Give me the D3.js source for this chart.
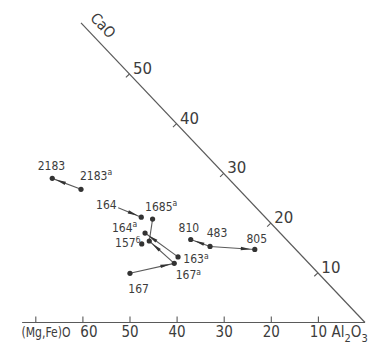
<!DOCTYPE html>
<html><head><meta charset="utf-8">
<script src="https://cdn.jsdelivr.net/npm/d3@7"></script>
<style>
html,body{margin:0;padding:0;background:#fff;}
svg{display:block;}
</style>
</head><body>
<svg id="chart" width="371" height="353"></svg>
<script>
// Axis ticks of the (Mg,Fe)O – CaO – Al2O3 diagram
const mgfeTicks = [10, 20, 30, 40, 50, 60, 70];
const mgfeTickLabels = ["10", "20", "30", "40", "50", "60", ""];
const caoTicks = [10, 20, 30, 40, 50];
const caoTickLabels = ["10", "20", "30", "40", "50"];

// Samples: (Mg,Fe)O and CaO contents, wt.%
const sampleIds    = ["2183", "2183a", "164", "164a", "1685a", "1685", "157b", "163", "810", "483", "805", "163a", "167a", "167"];
const sampleLabels = ["2183", "2183",  "164", "164",  "1685",  "",     "157",  "",    "810", "483", "805", "163",  "167",  "167"];
const sampleSups   = ["",     "а",     "",    "а",    "а",     "",     "б",    "",    "",    "",    "",    "а",    "а",    ""];
const mgfeValues   = [37.4, 33.5, 29.3, 26.3, 24.3, 28.7, 31.6, 29.4, 20.3, 17.6, 8.7, 26.5, 28.6, 40.0];
const caoValues    = [29.0, 26.8, 23.1, 21.2, 20.8, 18.0, 15.8, 16.4, 16.7, 15.3, 14.7, 13.2, 11.9, 9.9];
const undottedIds  = ["164"];

// Composition shifts between samples
const arrowLinks = [["2183a", "2183"], ["164", "164a"], ["163a", "1685"], ["167a", "163"], ["167", "167a"], ["483", "805"], ["483", "810"]];
const plainLinks = [["1685a", "163"]];

const svg = d3.select("#chart");
const ink = "#3c3c3c", lineInk = "#5a5a5a";
const condensed = "'DejaVu Sans Condensed','Liberation Sans Narrow','DejaVu Sans',sans-serif";

const baseY = 322.5, cornerX = 365;
// horizontal scale: (Mg,Fe)O + CaO  (position along the Al2O3 – (Mg,Fe)O edge)
const x = d3.scaleLinear().domain([0, 70]).range([cornerX, cornerX - 4.71 * 70]);
// vertical scale: CaO
const y = d3.scaleLinear().domain([0, 60]).range([baseY, baseY - 4.97 * 60]);
const pos = (m, c) => [x(m + c), y(c)];

// ---- bottom (Mg,Fe)O axis
const axisG = svg.append("g").attr("transform", `translate(0,${baseY})`);
axisG.call(d3.axisBottom(x).tickValues(mgfeTicks).tickSize(-6).tickSizeOuter(0).tickPadding(3.5)
  .tickFormat((d, i) => mgfeTickLabels[i]));
axisG.select(".domain").remove();
axisG.append("line").attr("x1", x(72.8)).attr("x2", x(0)).attr("y1", 0).attr("y2", 0)
  .attr("stroke", lineInk).attr("stroke-width", 1.2);
axisG.selectAll(".tick line").attr("stroke", lineInk).attr("stroke-width", 1.1);
axisG.selectAll(".tick text").attr("fill", ink).attr("font-family", condensed)
  .attr("font-size", 15).attr("font-stretch", "condensed")
  .attr("dx", d => d === 60 ? 6 : 0);   // keep "60" clear of the axis title

svg.append("text").attr("x", 21.5).attr("y", 336.7)
  .attr("font-family", condensed).attr("font-size", 13.5).attr("fill", ink)
  .attr("textLength", 49).attr("lengthAdjust", "spacingAndGlyphs")
  .text("(Mg,Fe)O");

const al = svg.append("text").attr("x", 331.5).attr("y", 336.7)
  .attr("font-family", condensed).attr("font-size", 15).attr("fill", ink);
al.append("tspan").text("Al");
al.append("tspan").attr("dy", 5).attr("font-size", 11).text("2");
al.append("tspan").attr("dy", -5).text("O");
al.append("tspan").attr("dy", 5).attr("font-size", 11).text("3");

// ---- CaO – Al2O3 edge
const edgeTop = pos(0, 60.3), edgeCorner = pos(0, 0);
svg.append("line").attr("x1", edgeTop[0]).attr("y1", edgeTop[1]).attr("x2", edgeCorner[0]).attr("y2", edgeCorner[1])
  .attr("stroke", lineInk).attr("stroke-width", 1.2);
const edx = edgeCorner[0] - edgeTop[0], edy = edgeCorner[1] - edgeTop[1], eLen = Math.hypot(edx, edy);
const ux = edx / eLen, uy = edy / eLen;  // along the edge (down-right)
const nx = uy, ny = -ux;                 // normal pointing up-right

svg.append("g").selectAll("line").data(caoTicks).join("line")
  .attr("x1", d => pos(0, d)[0]).attr("y1", d => pos(0, d)[1])
  .attr("x2", d => pos(0, d)[0] - nx * 5).attr("y2", d => pos(0, d)[1] - ny * 5)
  .attr("stroke", lineInk).attr("stroke-width", 1.1);
svg.append("g").selectAll("text").data(caoTicks).join("text")
  .attr("x", d => pos(0, d)[0] + 13).attr("y", d => pos(0, d)[1] - 5)
  .attr("text-anchor", "middle").attr("dominant-baseline", "central")
  .attr("font-family", "'DejaVu Sans',sans-serif").attr("font-size", 15).attr("fill", ink)
  .text((d, i) => caoTickLabels[i]);

const capPos = pos(0, 57.8);
const ang = Math.atan2(edy, edx) * 180 / Math.PI;
svg.append("text")
  .attr("transform", `translate(${capPos[0] + nx * 14},${capPos[1] + ny * 14}) rotate(${ang})`)
  .attr("text-anchor", "middle").attr("dominant-baseline", "central")
  .attr("font-family", condensed).attr("font-size", 15).attr("fill", ink)
  .text("CaO");

// ---- samples
const samples = sampleIds.map((id, i) => {
  const [px, py] = pos(mgfeValues[i], caoValues[i]);
  return { id, label: sampleLabels[i], sup: sampleSups[i], px, py };
});
const byId = Object.fromEntries(samples.map(s => [s.id, s]));

const linkG = svg.append("g");
linkG.selectAll("line.plain").data(plainLinks).join("line").attr("class", "plain")
  .attr("x1", d => byId[d[0]].px).attr("y1", d => byId[d[0]].py)
  .attr("x2", d => byId[d[1]].px).attr("y2", d => byId[d[1]].py)
  .attr("stroke", lineInk).attr("stroke-width", 1.1);
linkG.selectAll("line.arrow").data(arrowLinks).join("line").attr("class", "arrow")
  .attr("x1", d => byId[d[0]].px).attr("y1", d => byId[d[0]].py)
  .attr("x2", d => byId[d[1]].px).attr("y2", d => byId[d[1]].py)
  .attr("stroke", lineInk).attr("stroke-width", 1.1);
linkG.selectAll("path.head").data(arrowLinks).join("path").attr("class", "head")
  .attr("fill", "#333")
  .attr("d", d => {
    const s = byId[d[0]], t = byId[d[1]];
    const ddx = t.px - s.px, ddy = t.py - s.py, len = Math.hypot(ddx, ddy);
    const ax = ddx / len, ay = ddy / len, gx = -ay, gy = ax;
    const tipX = t.px - ax * 4, tipY = t.py - ay * 4;
    const bX = tipX - ax * 10, bY = tipY - ay * 10;
    return `M${tipX},${tipY}L${bX + gx * 1.7},${bY + gy * 1.7}L${bX - gx * 1.7},${bY - gy * 1.7}Z`;
  });

svg.append("g").selectAll("circle")
  .data(samples.filter(s => !undottedIds.includes(s.id))).join("circle")
  .attr("cx", d => d.px).attr("cy", d => d.py).attr("r", 2.6).attr("fill", "#333");

// label placement relative to each sample point
const labelPlacement = {
  "2183": [-14.5, -8, "start"], "2183a": [-1, -9.5, "start"], "164": [-1.5, 1, "end"],
  "164a": [-29.3, 14.7, "start"], "1685a": [-7.5, -8.3, "start"], "157b": [-26.7, 3.3, "start"],
  "810": [-12.2, -7.6, "start"], "483": [-3.3, -9.6, "start"], "805": [-8.3, -6.2, "start"],
  "163a": [5.3, 6.6, "start"], "167a": [1.5, 15.7, "start"], "167": [-1.7, 20, "start"]
};
const labG = svg.append("g");
samples.filter(s => s.label).forEach(s => {
  const [ox, oy, anchor] = labelPlacement[s.id];
  const t = labG.append("text").attr("x", s.px + ox).attr("y", s.py + oy)
    .attr("text-anchor", anchor).attr("font-family", condensed)
    .attr("font-size", 12).attr("fill", ink);
  t.append("tspan").text(s.label);
  if (s.sup) t.append("tspan").attr("dy", -4.5).attr("font-size", 8.5).text(s.sup);
});
</script>
</body></html>
